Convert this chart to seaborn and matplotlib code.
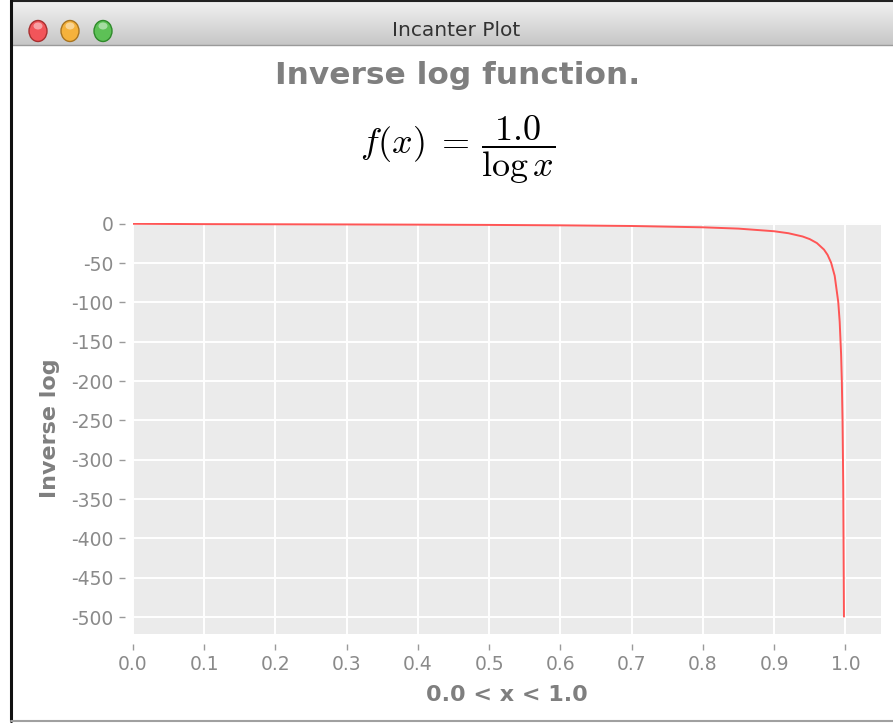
import numpy as np
import pandas as pd
import matplotlib
matplotlib.use("Agg")
import matplotlib.pyplot as plt
import seaborn as sns
from matplotlib.patches import Ellipse
from matplotlib.colors import LinearSegmentedColormap

# ---- data ----
x_values = [0.0, 0.1, 0.2, 0.3, 0.4, 0.5, 0.6, 0.7, 0.8, 0.85, 0.9, 0.92, 0.94,
            0.95, 0.96, 0.97, 0.975, 0.98, 0.985, 0.99, 0.992, 0.994, 0.995,
            0.996, 0.997, 0.998]
y_values = [0.0, -0.43, -0.62, -0.83, -1.09, -1.44, -1.96, -2.80, -4.48, -6.15,
            -9.49, -11.99, -16.16, -19.50, -24.50, -32.83, -39.50, -49.50,
            -66.17, -99.50, -124.50, -166.17, -199.50, -249.50, -332.83, -499.50]
x_ticks = [0.0, 0.1, 0.2, 0.3, 0.4, 0.5, 0.6, 0.7, 0.8, 0.9, 1.0]
y_ticks = [0, -50, -100, -150, -200, -250, -300, -350, -400, -450, -500]

title_text = "Inverse log function."
formula_text = r"$f(x)\;=\,\dfrac{1.0}{\log x}$"
x_label = "0.0 < x < 1.0"
y_label = "Inverse log"
window_title = "Incanter Plot"

df = pd.DataFrame({"x": x_values, "y": y_values})

sns.set_theme(style="darkgrid", rc={"axes.facecolor": "#EBEBEB",
                                    "grid.color": "white",
                                    "grid.linewidth": 1.4})
plt.rcParams["font.family"] = ["DejaVu Sans"]
plt.rcParams["mathtext.fontset"] = "cm"

W, H = 893, 723
fig = plt.figure(figsize=(W / 100, H / 100), dpi=100)
fig.patch.set_facecolor("white")

# ---- window chrome ----
bg = fig.add_axes([0, 0, 1, 1], zorder=0)
bg.axis("off")
cmap = LinearSegmentedColormap.from_list("tb", ["#F0F0F0", "#DCDCDC", "#C6C6C6"])
bg.imshow(np.linspace(0, 1, 60).reshape(-1, 1), extent=(11, W, 45, 2),
          cmap=cmap, aspect="auto", origin="upper", interpolation="bilinear")
bg.set_xlim(0, W)
bg.set_ylim(H, 0)
bg.plot([11, W], [45, 45], color="#9A9A9A", lw=1)
bg.plot([11, W], [1, 1], color="#222222", lw=1.5)
bg.plot([11, 11], [0, 721], color="#111111", lw=2.2)
bg.plot([11, W], [721, 721], color="#A0A0A0", lw=1.5)
for cx, fc, ec in [(38, "#F2555A", "#A83030"), (70, "#F5B23C", "#A87420"),
                   (103, "#5DC156", "#2E8A2A")]:
    bg.add_patch(Ellipse((cx, 31), 18, 21, facecolor=fc, edgecolor=ec, lw=1))
    bg.add_patch(Ellipse((cx, 26), 9, 7, facecolor="white", alpha=0.45, lw=0))
bg.text(456, 31, window_title, ha="center", va="center", fontsize=14.5,
        color="#333333")

# ---- titles ----
fig.text(458 / W, 1 - 76 / H, title_text, ha="center", va="center",
         fontsize=22.5, fontweight="bold", color="#7F7F7F")
fig.text(458 / W, 1 - 150 / H, formula_text, ha="center", va="center",
         fontsize=26, color="black")

# ---- main plot ----
left, right, top, bottom = 133, 881, 223, 634
ax = fig.add_axes([left / W, 1 - bottom / H, (right - left) / W, (bottom - top) / H],
                  zorder=2)
sns.lineplot(data=df, x="x", y="y", ax=ax, color="#FF5555", lw=1.4,
             estimator=None, sort=False)
ax.set_xlim(0, 1.05)
ax.set_ylim(-521.6, 1.0)
ax.set_xticks(x_ticks)
ax.set_xticklabels([f"{v:.1f}" for v in x_ticks])
ax.set_yticks(y_ticks)
ax.set_yticklabels([str(v) for v in y_ticks])
for s in ax.spines.values():
    s.set_visible(False)
ax.spines["bottom"].set_position(("outward", 7))
ax.spines["left"].set_position(("outward", 6))
ax.tick_params(axis="both", which="major", direction="out", length=4, width=1,
               color="#9A9A9A", labelcolor="#8A8A8A", labelsize=13.5,
               bottom=True, left=True, pad=4)
ax.set_xlabel(x_label, fontsize=16, fontweight="bold", color="#7F7F7F",
              labelpad=8)
ax.set_ylabel(y_label, fontsize=16, fontweight="bold", color="#7F7F7F",
              labelpad=8)
ax.grid(True, color="white", lw=1.4)

fig.savefig("out.png", dpi=100)
